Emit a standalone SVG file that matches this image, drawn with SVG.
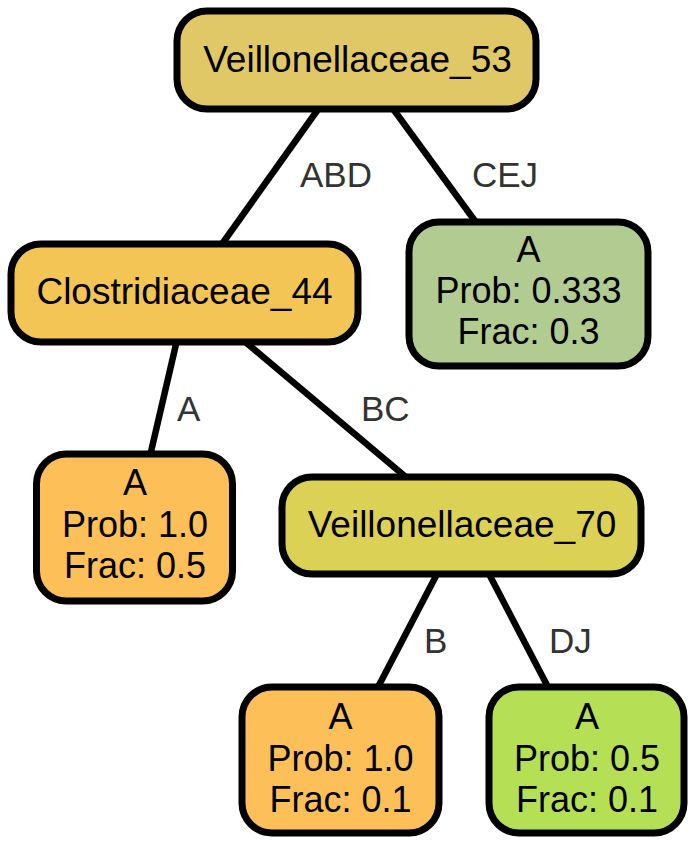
<svg xmlns="http://www.w3.org/2000/svg" width="697" height="846" viewBox="0 0 697 846">
<style>
.node rect{stroke:#000;stroke-width:7}
.node text{font-family:"Liberation Sans",Arial,Helvetica,sans-serif;font-size:36px;fill:#000;text-anchor:middle}
.node text.big{font-size:37px}
.edges line{stroke:#000;stroke-width:6.5}
.edges text{font-family:"Liberation Sans",Arial,Helvetica,sans-serif;font-size:35px;fill:#333}
</style>
<rect width="697" height="846" fill="#fff"/>
<g id="edges" class="edges">
<line x1="319" y1="108" x2="222" y2="244"/>
<line x1="391" y1="106" x2="475" y2="221"/>
<line x1="177" y1="340" x2="150" y2="456"/>
<line x1="243" y1="340" x2="407" y2="478"/>
<line x1="437" y1="574" x2="377" y2="689"/>
<line x1="489" y1="574" x2="549" y2="689"/>
<text x="300" y="187">ABD</text>
<text x="472" y="187">CEJ</text>
<text x="177" y="421">A</text>
<text x="361" y="421">BC</text>
<text x="424" y="653">B</text>
<text x="549" y="653">DJ</text>
</g>
<g id="n_root" class="node">
<rect x="177" y="11" width="359" height="98" rx="30" fill="#E0C866"/>
<text class="big" x="357.5" y="72">Veillonellaceae_53</text>
</g>
<g id="n_clos" class="node">
<rect x="11" y="244" width="347" height="98" rx="30" fill="#F3C555"/>
<text class="big" x="184.5" y="304">Clostridiaceae_44</text>
</g>
<g id="n_leaf_cej" class="node">
<rect x="409" y="222" width="239" height="144" rx="30" fill="#B1CB90"/>
<text x="528.5" y="262">A</text>
<text x="528.5" y="303">Prob: 0.333</text>
<text x="528.5" y="344">Frac: 0.3</text>
</g>
<g id="n_leaf_a" class="node">
<rect x="36.5" y="454" width="196" height="147" rx="30" fill="#FDBF57"/>
<text x="135" y="495">A</text>
<text x="135" y="537">Prob: 1.0</text>
<text x="135" y="578">Frac: 0.5</text>
</g>
<g id="n_v70" class="node">
<rect x="282" y="477" width="359" height="97" rx="30" fill="#DBD155"/>
<text class="big" x="462" y="537">Veillonellaceae_70</text>
</g>
<g id="n_leaf_b" class="node">
<rect x="242" y="687" width="197" height="146" rx="30" fill="#FDBF57"/>
<text x="340.5" y="729">A</text>
<text x="340.5" y="771">Prob: 1.0</text>
<text x="340.5" y="812">Frac: 0.1</text>
</g>
<g id="n_leaf_dj" class="node">
<rect x="489" y="687" width="195" height="146" rx="30" fill="#B5E056"/>
<text x="587" y="729">A</text>
<text x="587" y="771">Prob: 0.5</text>
<text x="587" y="812">Frac: 0.1</text>
</g>
</svg>
